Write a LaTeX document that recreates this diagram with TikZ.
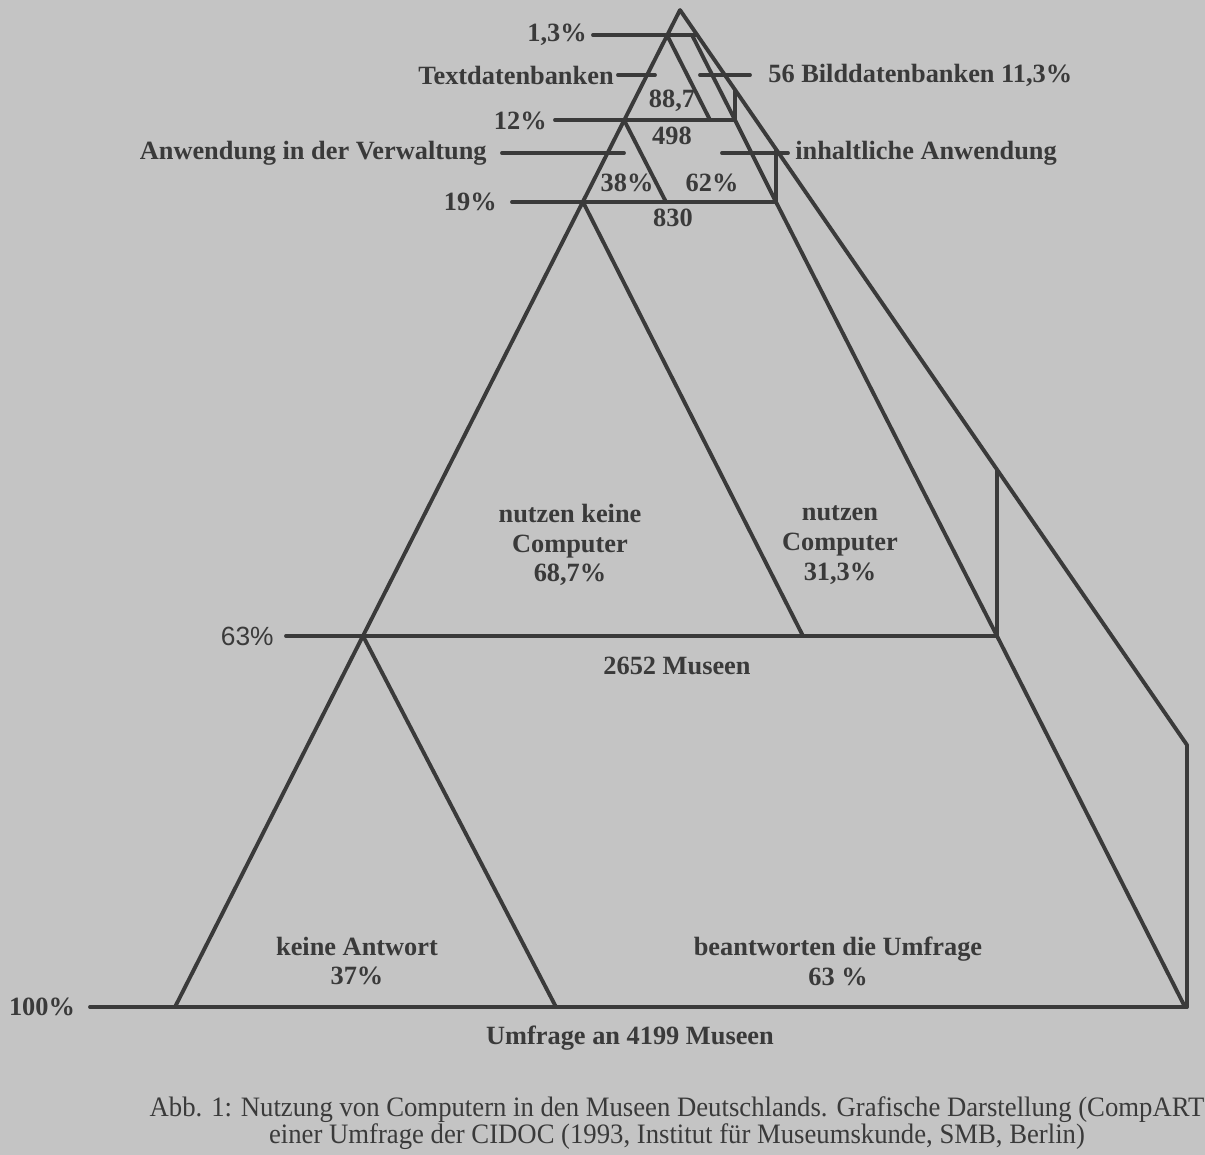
\documentclass[tikz,border=0pt]{standalone}
\usepackage{fontspec}
\setmainfont{Liberation Serif}
\setsansfont{Liberation Sans}
\newfontfamily\capfont[FakeStretch=0.95]{Liberation Serif}

\definecolor{ink}{HTML}{3A3A3A}
\definecolor{paper}{HTML}{C4C4C4}

\tikzset{
  edge/.style={ink, line width=2.2pt, line cap=round, line join=round},
  lbl/.style={inner sep=0pt, text=ink, font=\fontsize{15}{17}\selectfont\bfseries},
  blk/.style={lbl, align=center},
  capt/.style={inner sep=0pt, text=ink, align=center, font=\capfont\fontsize{16}{15}\selectfont}
}

\begin{document}
\begin{tikzpicture}[x=0.02cm, y=-0.02cm]
\useasboundingbox (0,0) rectangle (1205,1155);
\fill[paper] (0,0) rectangle (1205,1155);

% pyramid corners
\coordinate (apex) at (680,10);
\coordinate (base) at (175,1007);
\coordinate (outer) at (1187,745);
\coordinate (corner) at (1187,1007);

% outline
\draw[edge] (apex) -- (base);
\draw[edge] (apex) -- (outer) -- (corner);

% level lines
\draw[edge] (593,35) -- (697,35);
\draw[edge] (555,120) -- (735,120);
\draw[edge] (512,202) -- (776,202);
\draw[edge] (286,636) -- (997,636);
\draw[edge] (90,1007) -- (corner);

% leader lines
\draw[edge] (618,75) -- (655,75);
\draw[edge] (700,75) -- (750,75);
\draw[edge] (502,153) -- (624,153);
\draw[edge] (722,153) -- (788,153);

% inner splits
\draw[edge] (667,35) -- (710,120);
\draw[edge] (692,35) -- (735,120) -- (735,90);
\draw[edge] (624,120) -- (666,202);
\draw[edge] (735,120) -- (776,202) -- (776,149);
\draw[edge] (583,202) -- (803,636);
\draw[edge] (776,202) -- (997,636) -- (997,470);
\draw[edge] (363,636) -- (556,1007);
\draw[edge] (997,636) -- (1185,1007);

% labels
\node[lbl, anchor=east] (p13) at (587,35) {1,3\%};
\node[lbl, anchor=east] (textdb) at (614,75) {Textdatenbanken};
\node[lbl, anchor=west] (bilddb) at (768,75) {56 Bilddatenbanken 11,3\%};
\node[lbl] (n887) at (672,101) {88,7};
\node[lbl, anchor=east] (p12) at (547,121) {12\%};
\node[lbl] (n498) at (672,136) {498};
\node[lbl, anchor=east] (verw) at (487,153) {Anwendung in der Verwaltung};
\node[lbl, anchor=west] (inhalt) at (795,153) {inhaltliche Anwendung};
\node[lbl] (p38) at (627,183) {38\%};
\node[lbl] (p62) at (712,183) {62\%};
\node[lbl, anchor=east] (p19) at (497,202) {19\%};
\node[lbl] (n830) at (673,218) {830};
\node[blk] (keinecomp) at (570,545) {nutzen keine\\Computer\\68,7\%};
\node[blk] (comp) at (840,545) {nutzen\\Computer\\31,3\%};
\node[lbl, anchor=east, font=\fontsize{15}{17}\selectfont\sffamily] (p63) at (274,636) {63\%};
\node[lbl] (n2652) at (677,666) {2652 Museen};
\node[blk] (keine) at (357,961) {keine Antwort\\37\%};
\node[blk] (antw) at (838,961) {beantworten die Umfrage\\63 \%};
\node[lbl] (p100) at (42,1007) {100\%};
\node[lbl] (umfrage) at (630,1038) {Umfrage an 4199 Museen};
\node[capt] (caption) at (677,1123) {Abb. 1: Nutzung von Computern in den Museen Deutschlands. Grafische Darstellung (CompART\\einer Umfrage der CIDOC (1993, Institut für Museumskunde, SMB, Berlin)};
\end{tikzpicture}
\end{document}
